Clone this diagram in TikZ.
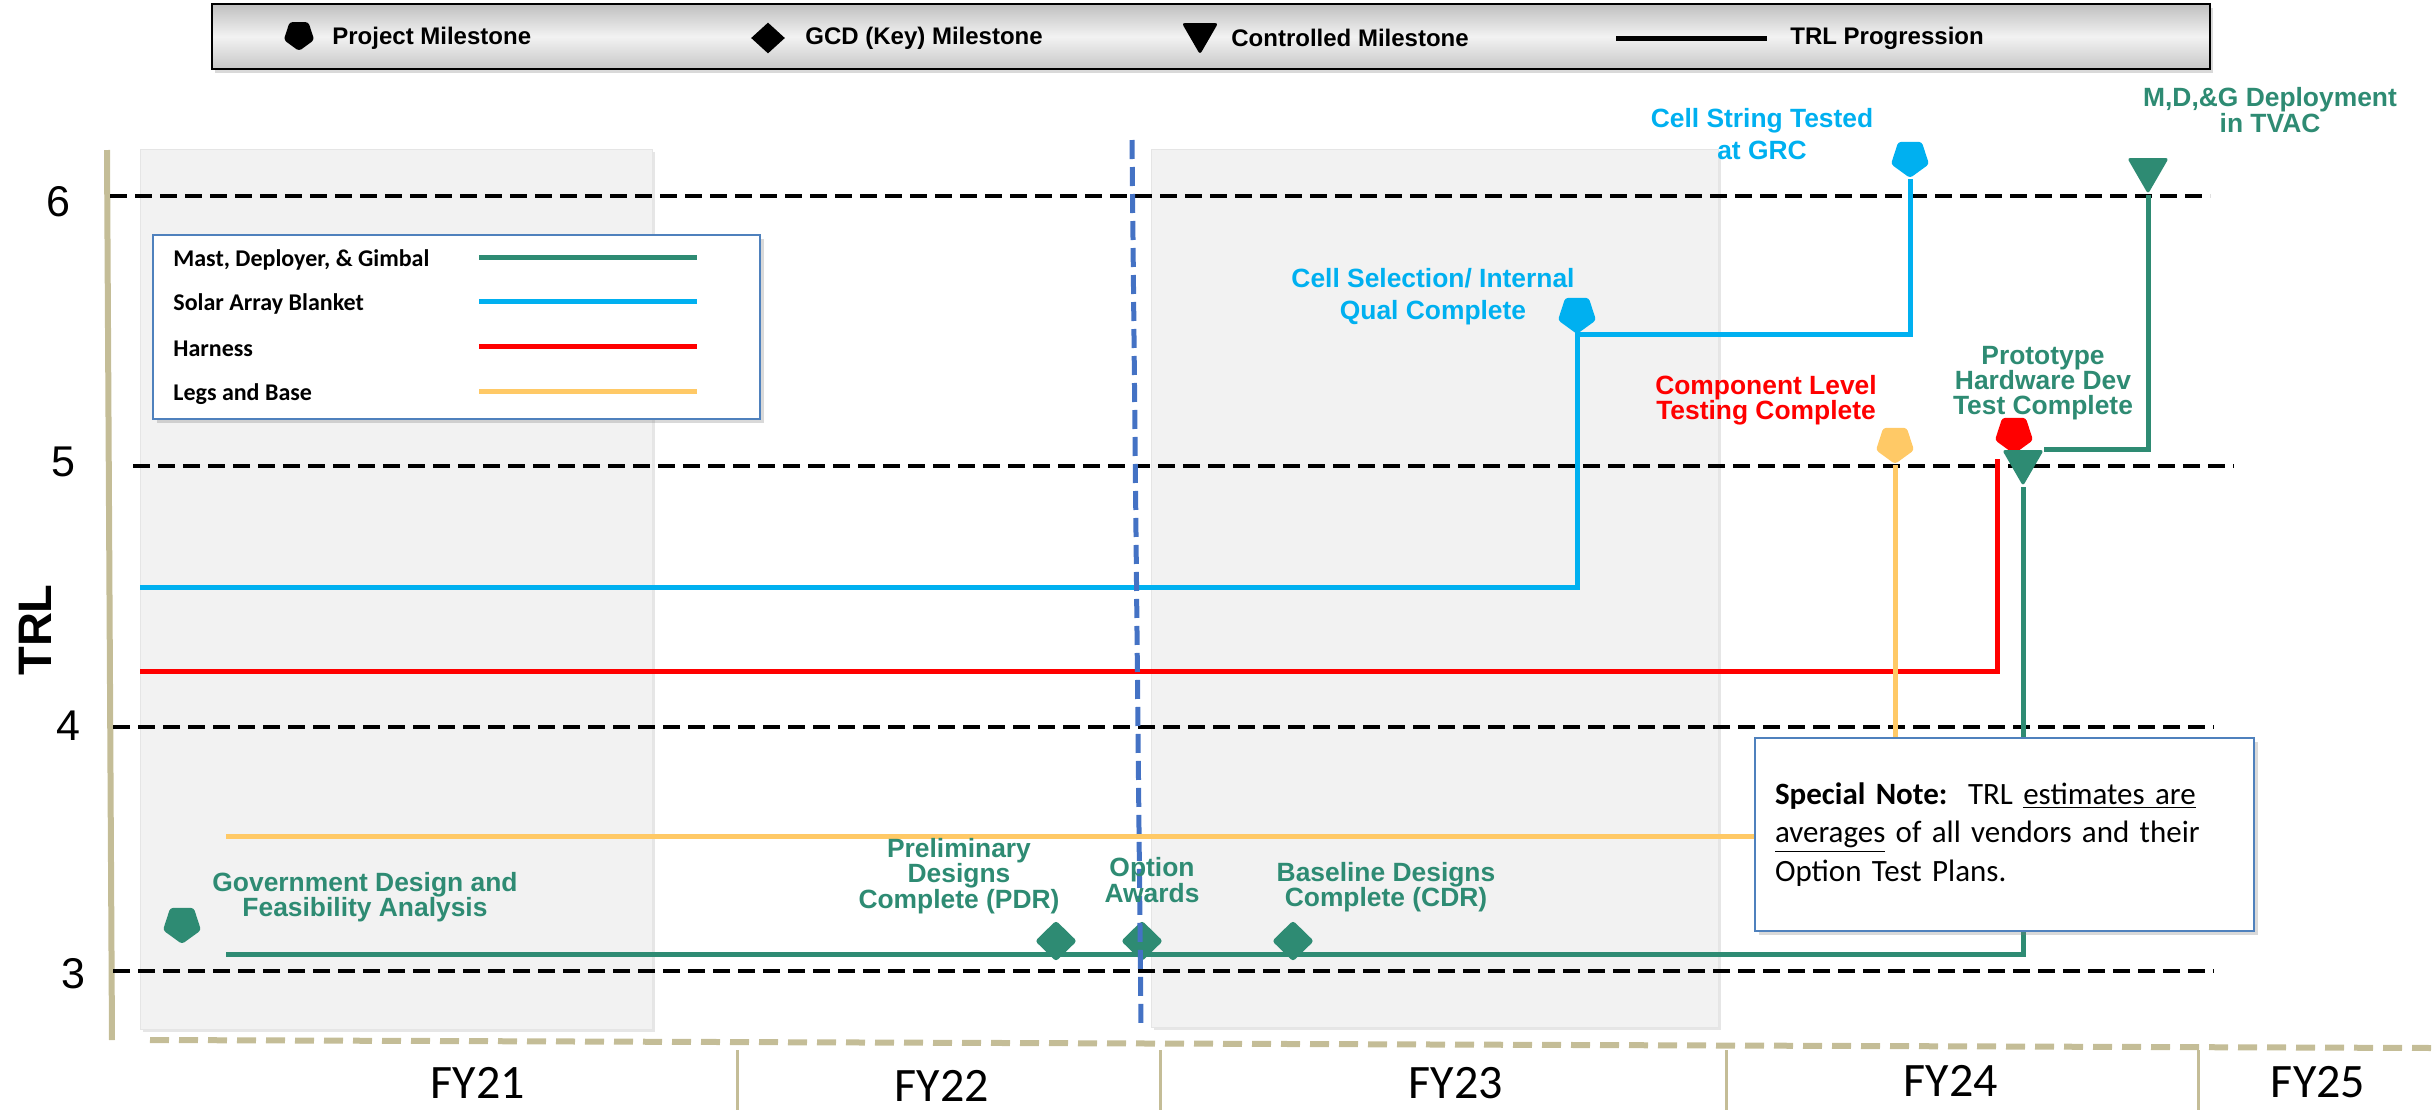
\documentclass[tikz,border=0pt]{standalone}
\usepackage{fontspec}
\setmainfont{Liberation Sans}
\newfontfamily\calfont{Carlito}
\usetikzlibrary{shapes.geometric,shadows,positioning}
\definecolor{mastgreen}{RGB}{46,139,115}
\definecolor{arrayblue}{RGB}{0,176,240}
\definecolor{harnessred}{RGB}{255,0,0}
\definecolor{legsgold}{RGB}{255,201,102}
\definecolor{axistan}{RGB}{196,189,151}
\definecolor{panelgray}{RGB}{242,242,242}
\definecolor{boxblue}{RGB}{79,129,189}
\definecolor{optblue}{RGB}{68,114,196}

\begin{document}
\begin{tikzpicture}[x=0.5pt,y=-0.5pt,line join=miter,
	panel/.style={fill=panelgray,draw=black!10,line width=0.4pt,drop shadow={shadow xshift=1.5pt,shadow yshift=-1.5pt,opacity=0.2}},
	trl/.style={line width=2.2pt,dash pattern=on 8.5pt off 4pt},
	run/.style={line width=2.5pt},
	pent/.style={regular polygon,regular polygon sides=5,shape border rotate=180,minimum size=20pt,inner sep=0pt,rounded corners=1.5pt},
	gcd/.style={diamond,minimum width=21pt,minimum height=20.5pt,inner sep=0pt,rounded corners=1.5pt,fill=mastgreen},
	ctrl/.style={regular polygon,regular polygon sides=3,shape border rotate=180,minimum size=24pt,inner sep=0pt,rounded corners=1.5pt,fill=mastgreen},
	lbl/.style={font=\bfseries\fontsize{13.2}{12.6}\selectfont,align=center,inner sep=0pt},
	keytext/.style={font=\bfseries\fontsize{12}{14}\selectfont,anchor=west,inner sep=0pt},
	serieskey/.style={font=\calfont\bfseries\fontsize{12}{14}\selectfont,anchor=west,inner sep=0pt},
	fy/.style={font=\calfont\fontsize{24}{28}\selectfont,inner sep=0pt},
	ylab/.style={font=\fontsize{21.5}{24}\selectfont,inner sep=0pt},
	notebox/.style={draw=boxblue,line width=0.8pt,fill=white,text width=229.5pt,align=left,inner xsep=10pt,minimum height=96.5pt,font=\calfont\fontsize{15.5}{19.25}\selectfont,drop shadow={shadow xshift=2pt,shadow yshift=-2pt,opacity=0.3}}]
	\useasboundingbox (0,0) rectangle (2433,1110);
	% fiscal year panels
	\path[panel] (140,149) rectangle (652,1029);
	\path[panel] (1151,149) rectangle (1718,1027);
	% axes
	\draw[axistan,line width=3pt] (107,150) -- (112,1040);
	\draw[axistan,line width=3pt,dash pattern=on 9.5pt off 5pt] (150,1040) -- (2433,1048);
	\foreach \x in {737,1160,1726,2198}
	{\draw[axistan,line width=1.5pt] (\x,1050) -- (\x,1110);}
	\foreach \yr/\x/\y in {21/478/1083,22/942/1086,23/1456/1083,24/1951/1081,25/2318/1082}
	{\node[fy] (fy\yr) at (\x,\y) {FY\yr};}
	% TRL levels
	\foreach \lev/\xa/\xb/\y/\lx/\ly in {6/110/2210/196/58/202,5/133/2234/466/63/462,4/113/2214/727/68/726,3/113/2214/971/73/974}{
		\draw[trl] (\xa,\y) -- (\xb,\y);
		\node[ylab] (trl\lev) at (\lx,\ly) {\lev};}
	\node[font=\bfseries\fontsize{23.5}{26}\selectfont,rotate=90,inner sep=0pt] (trlTitle) at (35,630) {TRL};
	% top key
	\node[draw=black,line width=1pt,minimum width=999pt,minimum height=32.5pt,inner sep=0pt,
		top color=black!25,bottom color=black!22,middle color=black!5,
		drop shadow={shadow xshift=1.5pt,shadow yshift=-2pt,opacity=0.3}] (topKey) at (1211,36.5) {};
	\node[pent,fill=black,minimum size=16pt] (keyPent) at (299,35) {};
	\node[keytext] (keyPentTxt) at (332,38) {Project Milestone};
	\node[diamond,fill=black,minimum width=17pt,minimum height=15.5pt,inner sep=0pt] (keyDia) at (768,38) {};
	\node[keytext] (keyDiaTxt) at (805,38) {GCD (Key) Milestone};
	\node[ctrl,fill=black,minimum size=21pt] (keyTri) at (1200,33.5) {};
	\node[keytext] (keyTriTxt) at (1231,38) {Controlled Milestone};
	\coordinate (keyLineA) at (1616,38);
	\coordinate (keyLineB) at (1767,38);
	\draw[line width=2.5pt] (keyLineA) -- (keyLineB);
	\node[keytext] (keyLineTxt) at (1790,38) {TRL Progression};
	% series key
	\node[draw=boxblue,line width=1pt,fill=white,minimum width=303.5pt,minimum height=92pt,inner sep=0pt,
		drop shadow={shadow xshift=2pt,shadow yshift=-2pt,opacity=0.3}] (seriesKey) at (456.5,327) {};
	\foreach \txt/\col/\y in {{Mast, Deployer, \& Gimbal}/mastgreen/260,Solar Array Blanket/arrayblue/304,Harness/harnessred/349,Legs and Base/legsgold/394}{
		\node[serieskey] (key\col) at (173,\y) {\txt};
		\draw[\col,line width=2.5pt] (479,\y-3) -- (697,\y-3);}
	% milestones
	\node[pent,fill=arrayblue] (cellSel) at (1577,314) {};
	\node[pent,fill=arrayblue] (grcTest) at (1910,158) {};
	\node[pent,fill=legsgold] (compTest) at (1895,444) {};
	\node[pent,fill=harnessred] (harnessMs) at (2014,434) {};
	\node[ctrl] (protoTest) at (2023,462) {};
	\node[ctrl] (tvacTest) at (2148,170) {};
	\node[pent,fill=mastgreen] (govDesign) at (182,924) {};
	% progression lines
	\coordinate (arrayStart) at (140,587);
	\coordinate (harnessStart) at (140,671);
	\coordinate (harnessTop) at (1997,459);
	\coordinate (legsStart) at (226,836);
	\coordinate (mastStart) at (226,954);
	\draw[run,arrayblue] (arrayStart) -| (cellSel.corner 1) -| (grcTest.corner 1);
	\draw[run,harnessred] (harnessStart) -| (harnessTop);
	\draw[run,legsgold] (legsStart) -| (compTest.corner 1);
	\draw[run,mastgreen] (mastStart) -| (protoTest.corner 1);
	\draw[run,mastgreen] (protoTest.corner 2) -| (tvacTest.corner 1);
	% key milestones
	\node[gcd] (pdrMs) at (1056,941) {};
	\node[gcd] (optMs) at (1142,941) {};
	\node[gcd] (cdrMs) at (1293,941) {};
	% option award date
	\coordinate (optTop) at (1132,140);
	\coordinate (optBot) at (1141,1025);
	\draw[optblue,line width=2.5pt,dash pattern=on 9.5pt off 4pt] (optTop) -- (optBot);
	% labels
	\node[lbl,text=mastgreen] (govLbl) at (365,897) {Government Design and\\Feasibility Analysis};
	\node[lbl,text=mastgreen] (pdrLbl) at (959,876) {Preliminary\\Designs\\Complete (PDR)};
	\node[lbl,text=mastgreen] (optLbl) at (1152,880) {Option\\Awards};
	\node[lbl,text=mastgreen] (cdrLbl) at (1386,887) {Baseline Designs\\Complete (CDR)};
	\node[lbl,text=arrayblue,font=\bfseries\fontsize{13.2}{16}\selectfont] (cellSelLbl) at (1433,297) {Cell Selection/ Internal\\Qual Complete};
	\node[lbl,text=arrayblue,font=\bfseries\fontsize{13.2}{16}\selectfont] (grcLbl) at (1762,134) {Cell String Tested\\at GRC};
	\node[lbl,text=harnessred] (compLbl) at (1766,400) {Component Level\\Testing Complete};
	\node[lbl,text=mastgreen] (protoLbl) at (2043,383) {Prototype\\Hardware Dev\\Test Complete};
	\node[lbl,text=mastgreen] (tvacLbl) at (2270,110) {M,D,\&G Deployment\\in TVAC};
	% note
	\node[notebox] (note) at (2004.5,834.5) {\textbf{Special Note:}\ \ TRL \underline{estimates are}\\\underline{averages} of all vendors and their\\Option Test Plans.};
\end{tikzpicture}
\end{document}
